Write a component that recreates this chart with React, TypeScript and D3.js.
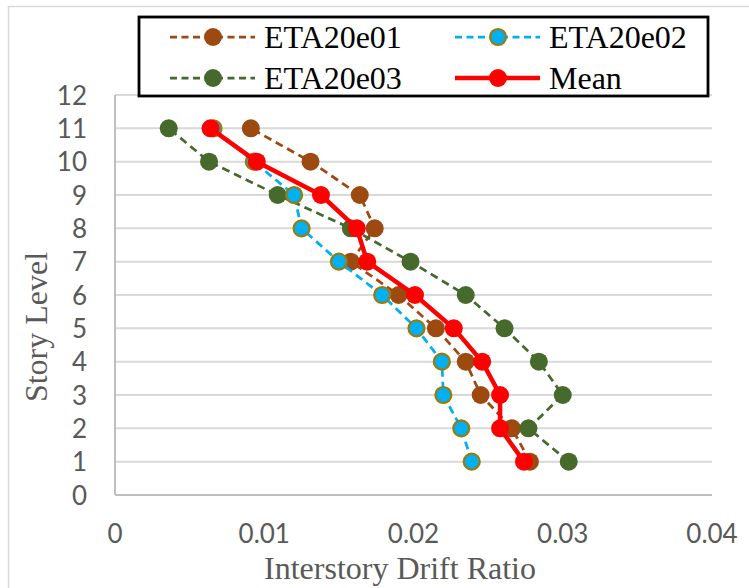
import React from "react";
import * as d3 from "d3";

const stories = [1, 2, 3, 4, 5, 6, 7, 8, 9, 10, 11];
const eta01 = [0.0278, 0.0266, 0.0245, 0.0235, 0.0215, 0.0190, 0.0158, 0.0174, 0.0164, 0.0131, 0.0091];
const eta02 = [0.0239, 0.0232, 0.0220, 0.0219, 0.0202, 0.0179, 0.0150, 0.0125, 0.0120, 0.0093, 0.0066];
const eta03 = [0.0304, 0.0277, 0.0300, 0.0284, 0.0261, 0.0235, 0.0198, 0.0158, 0.0109, 0.0063, 0.0036];
const meanV = [0.0274, 0.0258, 0.0258, 0.0246, 0.0227, 0.0201, 0.0169, 0.0162, 0.0138, 0.0095, 0.0064];
const xTicks = [0, 0.01, 0.02, 0.03, 0.04];
const yTicks = [0, 1, 2, 3, 4, 5, 6, 7, 8, 9, 10, 11, 12];

type Series = {
  name: string;
  values: number[];
  color: string;
  fill: string;
  stroke: string;
  width: number;
  dash: string | null;
};

const seriesList: Series[] = [
  { name: "ETA20e01", values: eta01, color: "#9C4A10", fill: "#9C4A10", stroke: "none", width: 2.75, dash: "8,5" },
  { name: "ETA20e03", values: eta03, color: "#46692C", fill: "#46692C", stroke: "none", width: 2.75, dash: "8,5" },
  { name: "ETA20e02", values: eta02, color: "#00B0F0", fill: "#00B0F0", stroke: "#9C7A0A", width: 2.75, dash: "8,5" },
  { name: "Mean", values: meanV, color: "#FF0000", fill: "#FF0000", stroke: "none", width: 4.5, dash: null },
];

const legendOrder = ["ETA20e01", "ETA20e02", "ETA20e03", "Mean"];

export default function App() {
  const W = 749;
  const H = 588;
  const left = 115;
  const right = 712;
  const top = 95;
  const bottom = 495;

  const x = d3.scaleLinear().domain([0, 0.04]).range([left, right]);
  const y = d3.scaleLinear().domain([0, 12]).range([bottom, top]);

  const line = d3
    .line<number>()
    .x((d) => x(d))
    .y((_, i) => y(stories[i]));

  const tickFont = "Lato, 'Open Sans', sans-serif";
  const serif = "'Liberation Serif', 'Times New Roman', serif";

  const legendPos: Record<string, { lx: number; ly: number }> = {
    ETA20e01: { lx: 170, ly: 37 },
    ETA20e02: { lx: 455, ly: 37 },
    ETA20e03: { lx: 170, ly: 78 },
    Mean: { lx: 455, ly: 78 },
  };

  return (
    <svg
      width={W}
      height={H}
      style={{ position: "absolute", left: 0, top: 0, background: "#fff" }}
    >
      <rect x={0} y={0} width={W} height={H} fill="#fff" />
      <rect x={8.5} y={6.5} width={W + 20} height={H + 20} fill="none" stroke="#D9D9D9" strokeWidth={1.5} />

      {/* gridlines */}
      {yTicks.map((t) => (
        <line key={"g" + t} x1={left} x2={right} y1={y(t)} y2={y(t)} stroke="#D9D9D9" strokeWidth={2} />
      ))}
      {/* axes */}
      <line x1={left} x2={left} y1={top} y2={bottom} stroke="#BFBFBF" strokeWidth={2} />
      <line x1={left} x2={right} y1={bottom} y2={bottom} stroke="#BFBFBF" strokeWidth={2} />

      {/* y tick labels */}
      {yTicks.map((t) => (
        <text
          key={"yl" + t}
          x={87}
          y={y(t) + 9.5}
          textAnchor="end"
          fontFamily={tickFont}
          fontSize={26}
          fill="#595959"
        >
          {t}
        </text>
      ))}
      {/* x tick labels */}
      {xTicks.map((t) => (
        <text
          key={"xl" + t}
          x={x(t)}
          y={542.5}
          textAnchor="middle"
          fontFamily={tickFont}
          fontSize={26}
          fill="#595959"
        >
          {t}
        </text>
      ))}

      {/* axis titles */}
      <text x={400} y={579} textAnchor="middle" fontFamily={serif} fontSize={32} fill="#595959">
        Interstory Drift Ratio
      </text>
      <text
        transform={`translate(47,327) rotate(-90)`}
        textAnchor="middle"
        fontFamily={serif}
        fontSize={32}
        fill="#595959"
      >
        Story Level
      </text>

      {/* series */}
      {seriesList.map((s) => (
        <g key={s.name}>
          <path
            d={line(s.values) || ""}
            fill="none"
            stroke={s.color}
            strokeWidth={s.width}
            strokeDasharray={s.dash || undefined}
            strokeLinejoin="round"
          />
          {s.values.map((v, i) => (
            <circle
              key={i}
              cx={x(v)}
              cy={y(stories[i])}
              r={s.stroke === "none" ? 9 : 8}
              fill={s.fill}
              stroke={s.stroke}
              strokeWidth={s.stroke === "none" ? 0 : 2.2}
            />
          ))}
        </g>
      ))}

      {/* legend */}
      <rect x={139} y={17} width={569} height={79} fill="#fff" stroke="#000" strokeWidth={2.8} />
      {legendOrder.map((name) => {
        const s = seriesList.find((d) => d.name === name)!;
        const p = legendPos[name];
        return (
          <g key={"lg" + name}>
            <line
              x1={p.lx}
              x2={p.lx + 85}
              y1={p.ly}
              y2={p.ly}
              stroke={s.color}
              strokeWidth={s.width}
              strokeDasharray={s.dash ? "7,4.5" : undefined}
            />
            <circle
              cx={p.lx + 43}
              cy={p.ly}
              r={s.stroke === "none" ? 9 : 8}
              fill={s.fill}
              stroke={s.stroke}
              strokeWidth={s.stroke === "none" ? 0 : 2.2}
            />
            <text x={p.lx + 94} y={p.ly + 10.5} fontFamily={serif} fontSize={32} fill="#000">
              {name}
            </text>
          </g>
        );
      })}
    </svg>
  );
}
